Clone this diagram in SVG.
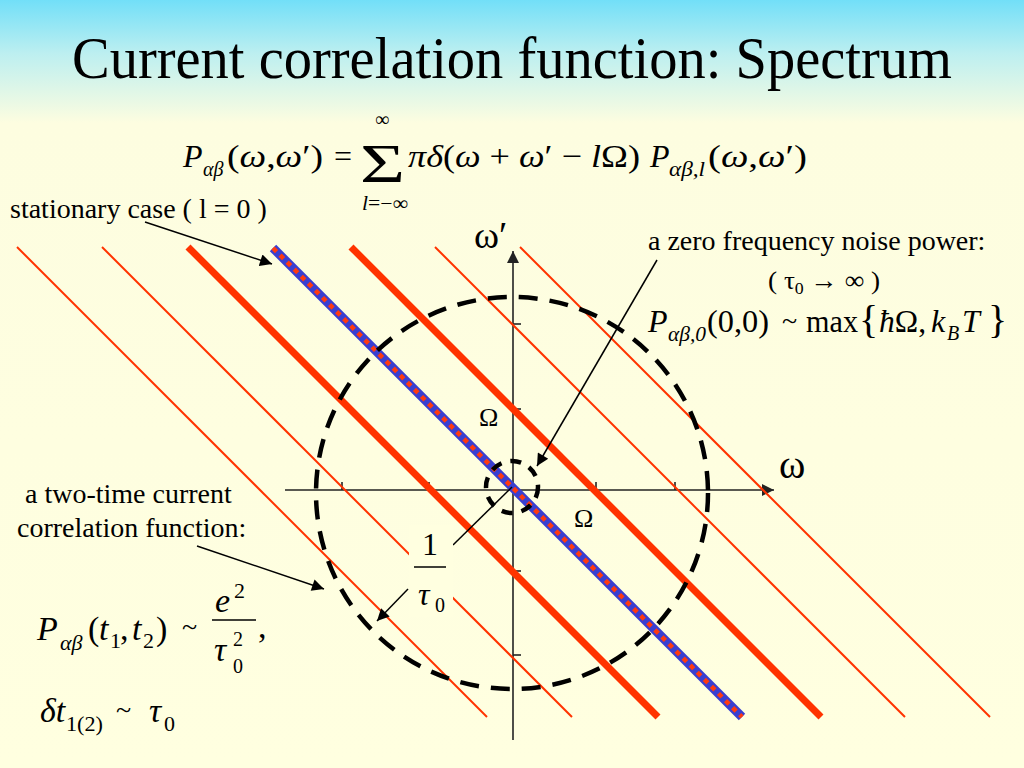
<svg xmlns="http://www.w3.org/2000/svg" width="1024" height="768" viewBox="0 0 1024 768" font-family="Liberation Serif, Times New Roman, serif">
<defs>
<linearGradient id="bg" x1="0" y1="0" x2="0" y2="1">
<stop offset="0" stop-color="#72dff8"/>
<stop offset="0.07" stop-color="#bdeff0"/>
<stop offset="0.16" stop-color="#fdfde0"/>
<stop offset="1" stop-color="#ffffe0"/>
</linearGradient>
<marker id="ah" viewBox="0 0 10 10" refX="10" refY="5" markerUnits="userSpaceOnUse" markerWidth="17" markerHeight="12" orient="auto">
<path d="M0,0 L10,5 L0,10 z" fill="#000"/>
</marker>
<marker id="axh" viewBox="0 0 10 10" refX="10" refY="5" markerUnits="userSpaceOnUse" markerWidth="16" markerHeight="12" orient="auto">
<path d="M0,0 L10,5 L0,10 z" fill="#222"/>
</marker>
</defs>
<style>
.t{font-size:28px}
.m{font-size:32px}
.s{font-size:20px}
.i{font-style:italic}
.thin{stroke:#ff3300;stroke-width:2;fill:none}
.thick{stroke:#ff3300;stroke-width:7;fill:none}
.axis{stroke:#222;stroke-width:1.6;fill:none}
.tick{stroke:#222;stroke-width:1.6}
.ptr{stroke:#000;stroke-width:1.5;fill:none;marker-end:url(#ah)}
.dash{stroke:#000;stroke-width:4.5;fill:none}
</style>
<rect width="1024" height="768" fill="url(#bg)"/>

<g id="title">
<text x="512" y="78" text-anchor="middle" font-size="60" textLength="880" lengthAdjust="spacingAndGlyphs">Current correlation function: Spectrum</text>
</g>

<g id="formula-main">
<text class="m i" x="183" y="167">P</text>
<text class="s i" x="203" y="176">αβ</text>
<text class="m" x="227" y="167" textLength="96" lengthAdjust="spacingAndGlyphs">(<tspan class="i">ω</tspan>,<tspan class="i">ω</tspan>′)</text>
<text class="m" x="334" y="167">=</text>
<text x="360" y="182" font-size="54" textLength="45" lengthAdjust="spacingAndGlyphs">Σ</text>
<text class="s" x="375" y="126">∞</text>
<text class="s" x="362" y="210" textLength="46" lengthAdjust="spacingAndGlyphs"><tspan class="i">l</tspan>=−∞</text>
<text class="m" x="408" y="167" textLength="232" lengthAdjust="spacingAndGlyphs"><tspan class="i">πδ</tspan>(<tspan class="i">ω</tspan> + <tspan class="i">ω</tspan>′ − <tspan class="i">l</tspan>Ω)</text>
<text class="m i" x="650" y="167">P</text>
<text class="s i" x="669" y="176" textLength="36" lengthAdjust="spacingAndGlyphs">αβ,l</text>
<text class="m" x="708" y="167" textLength="99" lengthAdjust="spacingAndGlyphs">(<tspan class="i">ω</tspan>,<tspan class="i">ω</tspan>′)</text>
</g>

<g id="axes">
<line class="axis" x1="513" y1="740" x2="513" y2="251" marker-end="url(#axh)"/>
<line class="axis" x1="285" y1="490" x2="774" y2="490" marker-end="url(#axh)"/>
<line class="tick" x1="513" y1="324" x2="521" y2="324"/>
<line class="tick" x1="513" y1="409" x2="521" y2="409"/>
<line class="tick" x1="513" y1="571" x2="521" y2="571"/>
<line class="tick" x1="513" y1="655" x2="521" y2="655"/>
<line class="tick" x1="342" y1="490" x2="342" y2="482"/>
<line class="tick" x1="675" y1="490" x2="675" y2="482"/>
<line class="tick" x1="429" y1="490" x2="429" y2="482"/>
<line class="tick" x1="596" y1="490" x2="596" y2="482"/>
</g>

<g id="spectral-lines">
<line class="thin" x1="17" y1="247" x2="487" y2="717"/>
<line class="thin" x1="102" y1="247" x2="572" y2="717"/>
<line class="thick" x1="188" y1="247" x2="658" y2="717"/>
<line stroke="#3a3fd0" stroke-width="9" x1="273" y1="248" x2="742" y2="717"/>
<line stroke="#ff3a10" stroke-width="4.5" stroke-dasharray="5 5" x1="273" y1="248" x2="742" y2="717"/>
<line class="thick" x1="351" y1="247" x2="821" y2="717"/>
<line class="thin" x1="435" y1="247" x2="905" y2="717"/>
<line class="thin" x1="520" y1="247" x2="990" y2="717"/>
</g>

<g id="circles">
<circle class="dash" cx="512" cy="493" r="196" stroke-dasharray="19 12"/>
<circle class="dash" cx="512" cy="487" r="26" stroke-dasharray="11 9" stroke-width="4"/>
</g>

<g id="connectors">
<line class="ptr" x1="145" y1="222" x2="272" y2="264"/>
<line class="ptr" x1="657" y1="260" x2="537" y2="466"/>
<line class="ptr" x1="197" y1="546" x2="324" y2="589"/>
<line class="ptr" x1="408" y1="589" x2="377" y2="621"/>
<line stroke="#000" stroke-width="1.5" x1="453" y1="545" x2="512" y2="487"/>
</g>

<g id="label-stationary">
<text class="t" x="10" y="218">stationary case ( l = 0 )</text>
</g>

<g id="axis-labels">
<text x="474" y="248" font-size="38">ω′</text>
<text x="779" y="478" font-size="40">ω</text>
<text x="479" y="426" font-size="26">Ω</text>
<text x="574" y="527" font-size="26">Ω</text>
</g>

<g id="label-zero-freq">
<text class="t" x="648" y="250">a zero frequency noise power:</text>
<text x="768" y="289" font-size="26" textLength="112" lengthAdjust="spacingAndGlyphs">( τ<tspan font-size="17" dy="5">0</tspan><tspan dy="-5"> → ∞ )</tspan></text>
<text class="m i" x="648" y="332">P</text>
<text class="s i" x="668" y="341" textLength="38" lengthAdjust="spacingAndGlyphs">αβ,0</text>
<text class="m" x="707" y="332" textLength="62" lengthAdjust="spacingAndGlyphs">(0,0)</text>
<text x="782" y="330" font-size="28">~</text>
<text class="m" x="806" y="332" textLength="52" lengthAdjust="spacingAndGlyphs">max</text>
<text x="859" y="333" font-size="40">{</text>
<text class="m" x="879" y="332" textLength="47" lengthAdjust="spacingAndGlyphs"><tspan class="i">ħ</tspan>Ω,</text>
<text class="m i" x="931" y="332">k</text>
<text class="s i" x="947" y="340">B</text>
<text class="m i" x="962" y="332">T</text>
<text x="988" y="333" font-size="40">}</text>
</g>

<g id="label-tau">
<rect x="409" y="525" width="44" height="92" fill="#ffffe0"/>
<text class="m" x="422" y="555">1</text>
<line stroke="#000" stroke-width="1.5" x1="414" y1="567" x2="446" y2="567"/>
<text class="m i" x="418" y="605">τ</text>
<text class="s" x="435" y="612">0</text>
</g>

<g id="label-two-time">
<text class="t" x="25" y="503">a two-time current</text>
<text class="t" x="17" y="537">correlation function:</text>
</g>

<g id="formula-two-time">
<text class="i" x="37" y="640" font-size="34">P</text>
<text class="i" x="60" y="650" font-size="22">αβ</text>
<text x="88" y="640" font-size="34">(<tspan class="i" x="99">t</tspan><tspan font-size="22" x="110" dy="8">1</tspan><tspan x="120" dy="-8">,</tspan><tspan class="i" x="132">t</tspan><tspan font-size="22" x="143" dy="8">2</tspan><tspan x="156" dy="-8">)</tspan></text>
<text x="182" y="636" font-size="28">~</text>
<text class="i" x="215" y="612" font-size="34">e</text>
<text x="234" y="598" font-size="22">2</text>
<line stroke="#000" stroke-width="1.5" x1="212" y1="620" x2="256" y2="620"/>
<text class="i" x="214" y="661" font-size="34">τ</text>
<text x="233" y="646" font-size="20">2</text>
<text x="233" y="673" font-size="20">0</text>
<text x="258" y="638" font-size="34">,</text>
</g>

<g id="formula-delta">
<text class="i" x="40" y="722" font-size="34">δt</text>
<text x="66" y="731" font-size="22" textLength="37" lengthAdjust="spacingAndGlyphs">1(2)</text>
<text x="116" y="719" font-size="28">~</text>
<text class="i" x="149" y="722" font-size="34">τ</text>
<text x="164" y="731" font-size="22">0</text>
</g>
</svg>
